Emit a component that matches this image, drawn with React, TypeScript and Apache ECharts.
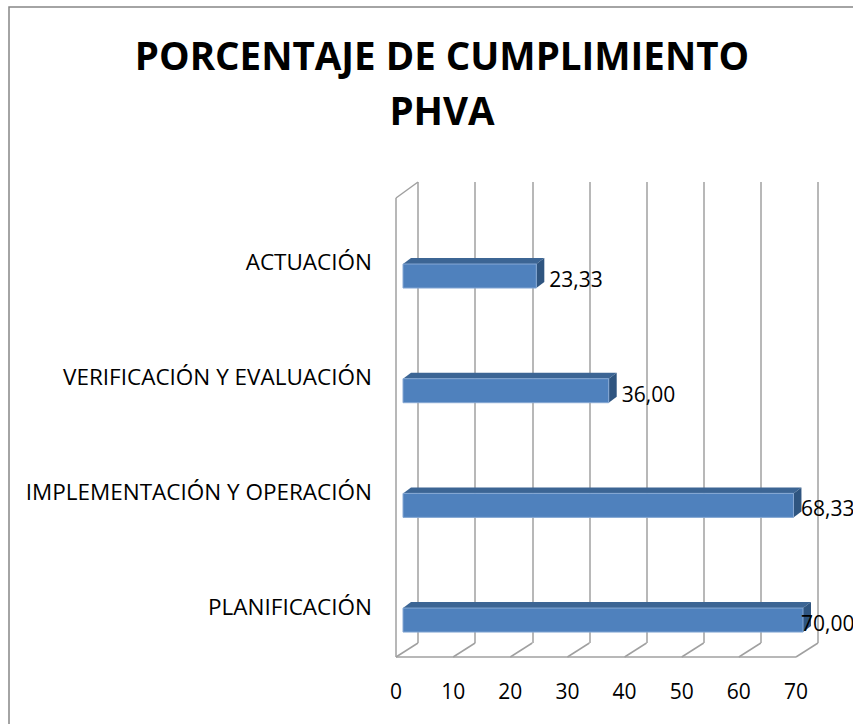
import React, { useEffect, useRef } from "react";
import * as echarts from "echarts";

const categories = [
  "PLANIFICACIÓN",
  "IMPLEMENTACIÓN Y OPERACIÓN",
  "VERIFICACIÓN Y EVALUACIÓN",
  "ACTUACIÓN",
];
const values = [70.0, 68.33, 36.0, 23.33];
const xTicks = [0, 10, 20, 30, 40, 50, 60, 70];
const titleLines = ["PORCENTAJE DE CUMPLIMIENTO", "PHVA"];

const FONT = "'Open Sans', 'Noto Sans', sans-serif";
const GRID_COLOR = "#a0a0a0";
// depth offset from back wall to front
const DX = -22;
const DY = 14;
// back wall
const BACK_LEFT = 418;
const BACK_TOP = 182;
const BACK_W = 400;
const BACK_H = 461;
// bar plane
const BAR_LEFT = 403;
const BAR_TOP = 218.7;
const BAR_H = 458.7;
// front label plane
const FRONT_LEFT = 396;
const FRONT_TOP = 204.5;
const FRONT_H = 459;
const BAR_THICK = 24;
const BAR_DEPTH_X = 8;
const BAR_DEPTH_Y = -6;

const fmt = (v: number) => v.toFixed(2).replace(".", ",");

export default function App() {
  const ref = useRef<HTMLDivElement>(null);
  useEffect(() => {
    document.body.style.margin = "0";
    if (!ref.current) return;
    const chart = echarts.init(ref.current, undefined, { renderer: "svg" });
    const option: any = {
      animation: false,
      backgroundColor: "#ffffff",
      title: {
        text: titleLines.join("\n"),
        left: 437,
        top: 22,
        textAlign: "center",
        textStyle: {
          fontFamily: FONT,
          fontWeight: "bold",
          fontSize: 38.5,
          lineHeight: 55.5,
          color: "#000",
        },
      },
      grid: [
        { left: BACK_LEFT, top: BACK_TOP, width: BACK_W, height: BACK_H },
        { left: BAR_LEFT, top: BAR_TOP, width: BACK_W, height: BAR_H },
        { left: FRONT_LEFT, top: FRONT_TOP, width: BACK_W, height: FRONT_H },
      ],
      xAxis: [
        {
          type: "value",
          gridIndex: 0,
          min: 0,
          max: 70,
          interval: 10,
          axisLabel: { show: false },
          axisLine: { show: false },
          axisTick: { show: false },
          splitLine: { show: true, lineStyle: { color: GRID_COLOR, width: 1.5 } },
        },
        {
          type: "value",
          gridIndex: 1,
          min: 0,
          max: 70,
          show: false,
        },
        {
          type: "value",
          gridIndex: 2,
          min: 0,
          max: 70,
          interval: 10,
          axisLabel: {
            show: true,
            fontFamily: FONT,
            fontSize: 21,
            color: "#000",
            margin: 17,
          },
          axisLine: { show: false },
          axisTick: { show: false },
          splitLine: { show: false },
        },
      ],
      yAxis: [
        { type: "value", gridIndex: 0, min: 0, max: 1, show: false },
        { type: "category", gridIndex: 1, data: categories, show: false },
        {
          type: "category",
          gridIndex: 2,
          data: categories,
          axisLabel: {
            fontFamily: FONT,
            fontSize: 22.5,
            color: "#000",
            margin: 24,
          },
          axisLine: { show: false },
          axisTick: { show: false },
          splitLine: { show: false },
        },
      ],
      graphic: [
        {
          type: "rect",
          shape: { x: 9, y: 7, width: 900, height: 800 },
          style: { fill: "none", stroke: "#868686", lineWidth: 1.5 },
          silent: true,
        },
        {
          type: "line",
          shape: { x1: BACK_LEFT + DX, y1: BACK_TOP + 16, x2: BACK_LEFT + DX, y2: BACK_TOP + BACK_H + DY },
          style: { stroke: GRID_COLOR, lineWidth: 1.5 },
          silent: true,
        },
        {
          type: "line",
          shape: { x1: BACK_LEFT + DX, y1: BACK_TOP + 16, x2: BACK_LEFT, y2: BACK_TOP },
          style: { stroke: GRID_COLOR, lineWidth: 1.5 },
          silent: true,
        },
        {
          type: "line",
          shape: {
            x1: BACK_LEFT + DX,
            y1: BACK_TOP + BACK_H + DY,
            x2: BACK_LEFT + BACK_W + DX,
            y2: BACK_TOP + BACK_H + DY,
          },
          style: { stroke: GRID_COLOR, lineWidth: 1.5 },
          silent: true,
        },
      ],
      series: [
        {
          type: "custom",
          name: "floor",
          xAxisIndex: 0,
          yAxisIndex: 0,
          silent: true,
          data: xTicks.map((t) => [t, 0]),
          renderItem: (params: any, api: any) => {
            const p = api.coord([api.value(0), 0]);
            return {
              type: "line",
              shape: { x1: p[0], y1: p[1], x2: p[0] + DX, y2: p[1] + DY },
              style: { stroke: GRID_COLOR, lineWidth: 1.5 },
            };
          },
        },
        {
          type: "custom",
          name: "PHVA",
          xAxisIndex: 1,
          yAxisIndex: 1,
          data: values.map((v, i) => [v, i]),
          encode: { x: 0, y: 1 },
          renderItem: (params: any, api: any) => {
            const v = api.value(0);
            const cat = api.value(1);
            const s = api.coord([0, cat]);
            const e = api.coord([v, cat]);
            const x0 = s[0];
            const x1 = e[0];
            const cy = s[1];
            const top = cy - BAR_THICK / 2;
            const bot = cy + BAR_THICK / 2;
            const labelX = Math.min(x1 + 13, 801);
            return {
              type: "group",
              children: [
                {
                  type: "polygon",
                  shape: {
                    points: [
                      [x0, top],
                      [x0 + BAR_DEPTH_X, top + BAR_DEPTH_Y],
                      [x1 + BAR_DEPTH_X, top + BAR_DEPTH_Y],
                      [x1, top],
                    ],
                  },
                  style: { fill: "#3c6594" },
                },
                {
                  type: "polygon",
                  shape: {
                    points: [
                      [x1, top],
                      [x1 + BAR_DEPTH_X, top + BAR_DEPTH_Y],
                      [x1 + BAR_DEPTH_X, bot + BAR_DEPTH_Y],
                      [x1, bot],
                    ],
                  },
                  style: { fill: "#2f5580" },
                },
                {
                  type: "rect",
                  shape: { x: x0, y: top, width: x1 - x0, height: BAR_THICK },
                  style: {
                    fill: "#4f81bd",
                    stroke: "#86a8d4",
                    lineWidth: 1,
                  },
                },
                {
                  type: "text",
                  x: labelX,
                  y: cy + 3,
                  style: {
                    text: fmt(v),
                    fontFamily: FONT,
                    fontSize: 21,
                    fill: "#000",
                    align: "left",
                    verticalAlign: "middle",
                  },
                },
              ],
            };
          },
        },
      ],
    };
    chart.setOption(option);
    return () => chart.dispose();
  }, []);
  return <div ref={ref} style={{ width: 853, height: 724 }} />;
}
